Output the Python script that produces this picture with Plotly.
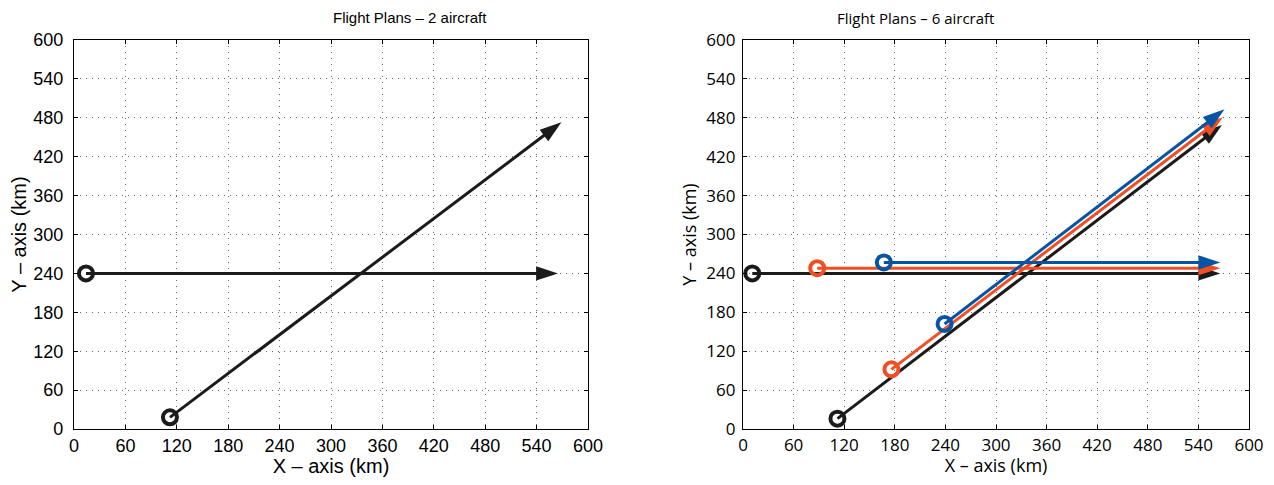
import plotly.graph_objects as go

# ---------------- data ----------------
# Left panel: 2 aircraft (start point -> end point, km)
left_h_x = [14, 565]
left_h_y = [240, 240]
left_d_x = [112, 569]
left_d_y = [18, 473]

# Right panel: 6 aircraft
r_black_h_x = [11, 566]
r_black_h_y = [240, 240]
r_red_h_x = [88, 566]
r_red_h_y = [248, 248]
r_blue_h_x = [167, 566]
r_blue_h_y = [257, 257]
r_black_d_x = [112, 568]
r_black_d_y = [16, 469]
r_red_d_x = [176, 569]
r_red_d_y = [92, 481]
r_blue_d_x = [239, 571]
r_blue_d_y = [162, 493]

tick_vals = [0, 60, 120, 180, 240, 300, 360, 420, 480, 540, 600]
tick_text = [str(v) for v in tick_vals]

BLACK = "#1b1b1b"
RED = "#f04e23"
BLUE = "#0754a5"

fig = go.Figure()


def path(xs, ys, color, xa, ya, lw=3):
    # flight path with arrowhead at the end
    fig.add_trace(go.Scatter(
        x=xs, y=ys, mode="lines+markers", xaxis=xa, yaxis=ya,
        line=dict(color=color, width=lw),
        marker=dict(symbol="arrow", size=[0, 23], color=color, opacity=1,
                    angleref="previous", line=dict(width=0)),
        showlegend=False, hoverinfo="skip"))
    # start point ring
    fig.add_trace(go.Scatter(
        x=xs[:1], y=ys[:1], mode="markers", xaxis=xa, yaxis=ya,
        marker=dict(symbol="circle-open", size=14, color=color, opacity=1,
                    line=dict(color=color, width=4)),
        showlegend=False, hoverinfo="skip"))


path(left_h_x, left_h_y, BLACK, "x", "y")
path(left_d_x, left_d_y, BLACK, "x", "y")

path(r_black_h_x, r_black_h_y, BLACK, "x2", "y2")
path(r_black_d_x, r_black_d_y, BLACK, "x2", "y2")
path(r_red_h_x, r_red_h_y, RED, "x2", "y2")
path(r_red_d_x, r_red_d_y, RED, "x2", "y2")
path(r_blue_h_x, r_blue_h_y, BLUE, "x2", "y2")
path(r_blue_d_x, r_blue_d_y, BLUE, "x2", "y2")

L_FONT = "Liberation Sans, Arial, sans-serif"
R_FONT = "Open Sans, Noto Sans, sans-serif"

W, H = 1258, 469   # page adds an 8px body margin


def axis(domain, font, size, tsize, title, anchor, standoff, lstand):
    return dict(domain=domain, range=[0, 600], tickvals=tick_vals, ticktext=tick_text,
                showgrid=True, gridcolor="#6a6a6a", griddash="1px,5px", gridwidth=1,
                zeroline=False, showline=True, linecolor="black", linewidth=1.2,
                mirror="ticks", ticks="inside", ticklen=4, tickcolor="black",
                tickfont=dict(family=font, size=size, color="black"),
                ticklabelstandoff=lstand,
                title=dict(text=title, font=dict(family=font, size=tsize, color="black"),
                           standoff=standoff),
                automargin=False,
                anchor=anchor, fixedrange=True)


ydom = [(H - 421) / H, (H - 32) / H]
fig.update_layout(
    width=W, height=H,
    margin=dict(l=0, r=0, t=0, b=0),
    paper_bgcolor="white", plot_bgcolor="white",
    xaxis=axis([66 / W, 580 / W], L_FONT, 18, 20, "X \u2013 axis (km)", "y", 3, 0),
    yaxis=axis(ydom, L_FONT, 18, 20, "Y \u2013 axis (km)", "x", 8, 6),
    xaxis2=axis([735 / W, 1241 / W], R_FONT, 17, 18, "X \u2013 axis (km)", "y2", 5, 0),
    yaxis2=axis(ydom, R_FONT, 17, 18, "Y \u2013 axis (km)", "x2", 5, 3),
    annotations=[
        dict(text="Flight Plans \u2013 2 aircraft", x=(66 + 580) / 2 / W, y=1 - 10 / H,
             xref="paper", yref="paper", showarrow=False, yanchor="middle",
             font=dict(family=L_FONT, size=15, color="black")),
        dict(text="Flight Plans \u2013 6 aircraft", x=(735 + 1241) / 2 / W, y=1 - 10 / H,
             xref="paper", yref="paper", showarrow=False, yanchor="middle",
             font=dict(family=R_FONT, size=15, color="black")),
    ],
)

fig.write_html("out.html")
